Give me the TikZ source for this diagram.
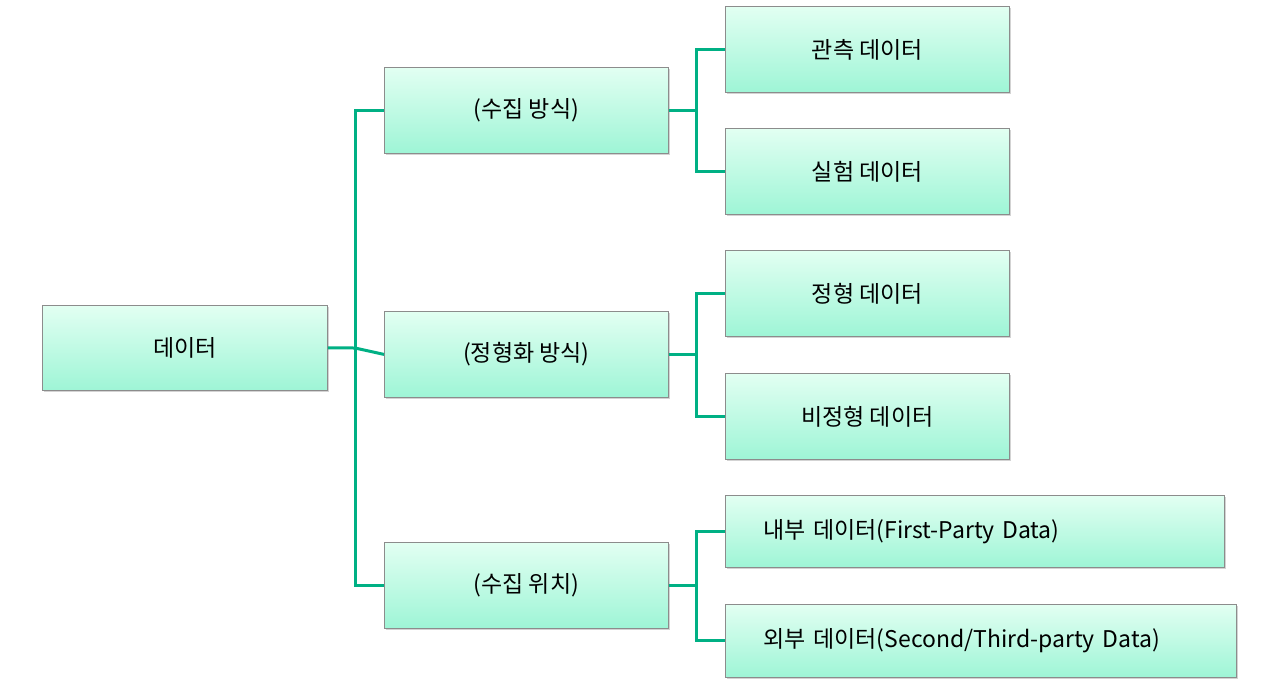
\documentclass[tikz,border=0pt]{standalone}
\usepackage{fontspec}
\setmainfont{Noto Sans CJK KR}
\usetikzlibrary{shadows}
\definecolor{linec}{HTML}{00B084}
\definecolor{topc}{HTML}{E2FFF2}
\definecolor{botc}{HTML}{9EF5D6}
\tikzset{
 box/.style={draw=black!45, line width=0.8pt, top color=topc, bottom color=botc, anchor=north west, inner sep=0pt,
   font=\fontsize{23}{27}\selectfont, drop shadow={opacity=0.35, shadow xshift=2pt, shadow yshift=-2pt}},
 conn/.style={draw=linec, line width=3pt}
}
\begin{document}
\begin{tikzpicture}[x=1pt,y=-1pt]
\useasboundingbox (0,0) rectangle (1280,694);
\node[box, minimum width=285pt, minimum height=85pt] (root) at (42,305) {데이터};
\node[box, minimum width=284pt, minimum height=86pt] (m1) at (384,67) {(수집 방식)};
\node[box, minimum width=284pt, minimum height=86pt] (m2) at (384,311) {(정형화 방식)};
\node[box, minimum width=284pt, minimum height=86pt] (m3) at (384,542) {(수집 위치)};
\node[box, minimum width=284pt, minimum height=86pt] (a1) at (725,6) {관측 데이터};
\node[box, minimum width=284pt, minimum height=86pt] (a2) at (725,128) {실험 데이터};
\node[box, minimum width=284pt, minimum height=86pt] (b1) at (725,250) {정형 데이터};
\node[box, minimum width=284pt, minimum height=86pt] (b2) at (725,373) {비정형 데이터};
\node[box, minimum height=72pt, text width=423pt, inner xsep=38pt, align=left] (c1) at (725,495) {\mbox{내부 데이터(First-Party Data)}};
\node[box, minimum height=73pt, text width=435pt, inner xsep=38pt, align=left] (c2) at (725,604) {\mbox{외부 데이터(Second/Third-party Data)}};
\coordinate (j0) at (355,348);
\draw[conn] (root.east) -- (j0);
\draw[conn] (m1.west) -| (j0) |- (m3.west);
\draw[conn] (j0) -- (m2.west);
\foreach \p/\x/\y in {m1/a1/a2, m2/b1/b2, m3/c1/c2}{
  \draw[conn] (\p.east) -- ++(28,0) coordinate (j);
  \draw[conn] (\x.west) -| (j) |- (\y.west);
}
\end{tikzpicture}
\end{document}
